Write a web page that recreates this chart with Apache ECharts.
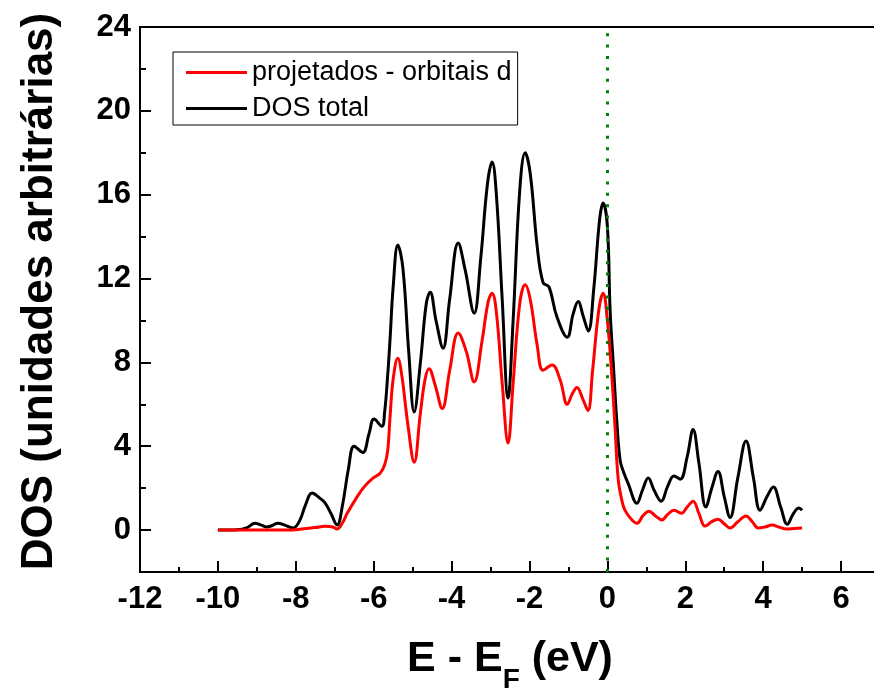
<!DOCTYPE html>
<html>
<head>
<meta charset="utf-8">
<script src="https://cdn.jsdelivr.net/npm/echarts@6/dist/echarts.min.js"></script>
<style>
    html, body { margin: 0; padding: 0; background: #fff; }
    #dos { width: 874px; height: 694px; }
</style>
</head>
<body>
<div id="dos"></div>
<script>
// DOS total (preto)
const totalE = [-10.0, -9.5, -9.25, -9.05, -8.9, -8.74, -8.6, -8.46, -8.3, -8.07, -7.9, -7.75, -7.58, -7.4, -7.25, -7.1, -6.94,
    -6.8, -6.65, -6.5, -6.28, -6.12, -5.99, -5.79, -5.72, -5.64, -5.58, -5.5, -5.38, -5.25, -5.1, -4.96,
    -4.8, -4.65, -4.55, -4.4, -4.22, -4.05, -3.83, -3.65, -3.42, -3.25, -3.08, -2.96, -2.85, -2.7, -2.55,
    -2.42, -2.25, -2.11, -1.98, -1.8, -1.65, -1.5, -1.3, -1.03, -0.88, -0.75, -0.62, -0.49, -0.35, -0.2, -0.11,
    0.0, 0.07, 0.15, 0.25, 0.33, 0.42, 0.53, 0.76, 0.9, 1.05, 1.2, 1.38, 1.55, 1.71, 1.87, 2.05, 2.2, 2.35,
    2.53, 2.68, 2.84, 3.0, 3.15, 3.35, 3.56, 3.75, 3.92, 4.1, 4.26, 4.45, 4.62, 4.78, 4.92, 5.0]
const totalDos = [0, 0.02, 0.12, 0.33, 0.25, 0.15, 0.22, 0.33, 0.25, 0.1, 0.45, 1.2, 1.77, 1.55, 1.3, 0.8, 0.24,
    1.2, 2.9, 4.0, 3.7, 4.6, 5.3, 4.95, 5.6, 7.4, 9.1, 11.6, 13.6, 12.5, 8.5, 5.63,
    8.0, 10.8, 11.35, 10.0, 8.68, 11.0, 13.7, 12.4, 10.35, 13.0, 16.5, 17.56, 16.0, 11.0, 6.3,
    10.0, 16.2, 18.0, 17.0, 13.5, 11.8, 11.6, 10.2, 9.2, 10.3, 10.9, 10.2, 9.5, 11.5, 14.8, 15.6,
    14.5, 10.5, 8.0, 5.0, 3.3, 2.75, 2.24, 1.28, 1.9, 2.48, 1.9, 1.38, 2.1, 2.58, 2.43, 3.5, 4.8, 3.2,
    1.1, 2.0, 2.8, 1.6, 0.6, 2.5, 4.25, 2.5, 0.95, 1.6, 2.05, 1.1, 0.28, 0.8, 1.05, 0.95]

// projetados - orbitais d (vermelho)
const dE = [-10.0, -9.0, -8.5, -8.0, -7.5, -7.25, -7.05, -6.94, -6.8, -6.68, -6.43, -6.25, -6.02, -5.84, -5.72, -5.64,
    -5.58, -5.5, -5.38, -5.28, -5.12, -4.96, -4.8, -4.68, -4.58, -4.42, -4.24, -4.05, -3.83, -3.62, -3.42,
    -3.22, -3.06, -2.96, -2.85, -2.7, -2.55, -2.42, -2.25, -2.11, -1.98, -1.8, -1.65, -1.42, -1.21, -1.03,
    -0.9, -0.78, -0.64, -0.5, -0.38, -0.22, -0.11, 0.0, 0.12, 0.2, 0.28, 0.38, 0.45, 0.6, 0.76, 0.92, 1.07,
    1.22, 1.4, 1.55, 1.71, 1.9, 2.05, 2.2, 2.35, 2.51, 2.68, 2.84, 3.0, 3.15, 3.35, 3.56, 3.72, 3.87, 4.05,
    4.23, 4.4, 4.6, 4.8, 5.0]
const dDos = [0, 0, 0, 0.02, 0.12, 0.18, 0.15, 0.05, 0.35, 0.8, 1.57, 2.05, 2.48, 2.7, 3.1, 3.8,
    5.4, 7.2, 8.2, 7.4, 5.0, 3.24, 5.6, 7.2, 7.7, 6.9, 5.8, 7.6, 9.4, 8.5, 7.07,
    9.0, 10.9, 11.3, 10.4, 7.0, 4.15, 7.0, 10.8, 11.7, 11.0, 8.8, 7.63, 7.87, 7.15, 6.0,
    6.5, 6.8, 6.3, 5.7, 7.6, 10.5, 11.3, 10.0, 7.2, 4.8, 2.4, 1.35, 0.95, 0.55, 0.33, 0.7, 0.9,
    0.7, 0.48, 0.75, 0.95, 0.8, 1.1, 1.38, 0.8, 0.19, 0.4, 0.52, 0.3, 0.1, 0.4, 0.67, 0.4, 0.1, 0.15,
    0.24, 0.15, 0.05, 0.08, 0.1]

const xRange = [-12, 7]
const yRange = [-2, 24]
const fermi = 0

const font = 'Liberation Sans, Arial, sans-serif'
const pairs = (xs, ys) => xs.map((x, i) => [x, ys[i]])

const option = {
    animation: false,
    backgroundColor: '#fff',
    grid: {
        left: 140,
        right: -6,
        top: 27,
        bottom: 122,
        show: true,
        borderColor: '#000',
        borderWidth: 2,
        outerBoundsMode: 'none'
    },
    legend: {
        orient: 'vertical',
        left: 173,
        top: 52,
        padding: [7, 6, 3, 13],
        icon: 'rect',
        itemWidth: 61,
        itemHeight: 3,
        itemGap: 9,
        borderColor: '#000',
        borderWidth: 1,
        borderRadius: 0,
        backgroundColor: '#fff',
        textStyle: {
            fontFamily: font,
            fontSize: 27,
            lineHeight: 26,
            color: '#000'
        },
        data: ['projetados - orbitais d', 'DOS total']
    },
    xAxis: [{
        type: 'value',
        min: xRange[0],
        max: xRange[1],
        interval: 2,
        position: 'bottom',
        axisLine: {onZero: false, lineStyle: {color: '#000', width: 2}},
        axisTick: {inside: true, length: 11, lineStyle: {color: '#000', width: 2}},
        axisLabel: {
            margin: 12,
            fontFamily: font,
            fontSize: 31,
            fontWeight: 'bold',
            color: '#000',
            showMinLabel: true,
            formatter: v => (v > 6 ? '' : String(v))
        },
        splitLine: {show: false},
        name: '{a|E - E}{sub|F}{a| (eV)}',
        nameLocation: 'middle',
        nameGap: 52,
        nameTextStyle: {
            rich: {
                a: {fontFamily: font, fontSize: 43, fontWeight: 'bold', color: '#000', lineHeight: 70, verticalAlign: 'middle'},
                sub: {fontFamily: font, fontSize: 28, fontWeight: 'bold', color: '#000', lineHeight: 28, verticalAlign: 'bottom'}
            }
        }
    }, {
        type: 'value',
        min: xRange[0],
        max: xRange[1],
        interval: 1,
        position: 'bottom',
        axisLine: {show: false, onZero: false},
        axisTick: {inside: true, length: 5, lineStyle: {color: '#000', width: 2}},
        axisLabel: {show: false},
        splitLine: {show: false}
    }],
    yAxis: [{
        type: 'value',
        min: yRange[0],
        max: yRange[1],
        minInterval: 4,
        maxInterval: 4,
        position: 'left',
        axisLine: {show: true, onZero: false, lineStyle: {color: '#000', width: 2}},
        axisTick: {show: true, inside: true, length: 11, lineStyle: {color: '#000', width: 2}},
        axisLabel: {
            margin: 9,
            fontFamily: font,
            fontSize: 31,
            fontWeight: 'bold',
            color: '#000',
            formatter: v => (v < 0 ? '' : String(v))
        },
        splitLine: {show: false},
        name: 'DOS (unidades arbitrárias)',
        nameLocation: 'middle',
        nameGap: 78,
        nameTextStyle: {fontFamily: font, fontSize: 44, fontWeight: 'bold', color: '#000', padding: [0, 0, 0, 16]}
    }, {
        type: 'value',
        min: yRange[0],
        max: yRange[1],
        interval: 2,
        position: 'left',
        axisLine: {show: false, onZero: false},
        axisTick: {show: true, inside: true, length: 6, lineStyle: {color: '#000', width: 2}},
        axisLabel: {show: false},
        splitLine: {show: false}
    }],
    series: [{
        name: 'DOS total',
        type: 'line',
        data: pairs(totalE, totalDos),
        smooth: 0.4,
        symbol: 'none',
        lineStyle: {color: '#000', width: 3},
        itemStyle: {color: '#000'}
    }, {
        name: 'projetados - orbitais d',
        type: 'line',
        data: pairs(dE, dDos),
        smooth: 0.4,
        symbol: 'none',
        lineStyle: {color: '#ff0000', width: 3},
        itemStyle: {color: '#ff0000'},
        markLine: {
            silent: true,
            symbol: ['none', 'none'],
            label: {show: false},
            lineStyle: {color: '#008000', width: 3, type: [3, 8.4], cap: 'butt'},
            data: [{xAxis: fermi}]
        }
    }]
};
const myChart = echarts.init(document.getElementById('dos'));
myChart.setOption(option);
</script>
</body>
</html>
